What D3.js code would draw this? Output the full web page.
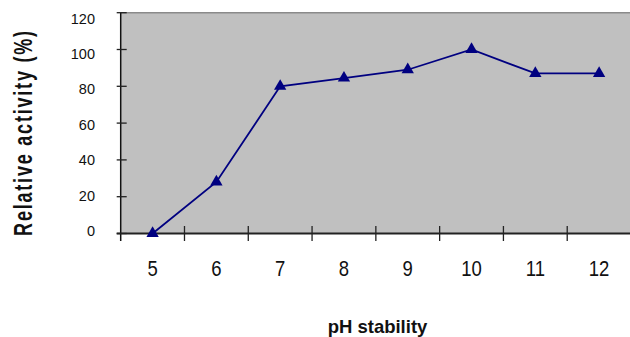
<!DOCTYPE html>
<html>
<head>
<meta charset="utf-8">
<script src="https://cdn.jsdelivr.net/npm/d3@7"></script>
<style>
  html, body { margin: 0; padding: 0; background: #fff; }
  svg { display: block; font-family: "Liberation Sans", Arial, sans-serif; }
</style>
</head>
<body>
<svg id="chart" width="630" height="337"></svg>
<script>
// pH stability profile
const categories = ["5", "6", "7", "8", "9", "10", "11", "12"];
const activity = [0, 28, 80, 84.5, 89, 100, 87, 87];
const yTicks = [0, 20, 40, 60, 80, 100, 120];
const xTitle = "pH stability";
const yTitle = "Relative activity (%)";

const svg = d3.select("#chart");
const plot = { left: 120.7, right: 631, top: 12.7, bottom: 233.5 };

const x = d3.scaleBand().domain(categories).range([plot.left, plot.right]);
const y = d3.scaleLinear().domain([0, 120]).range([plot.bottom, plot.top]);
// tick labels sit on a slightly tighter spacing than the ticks
const yLab = d3.scaleLinear().domain([0, 120]).range([231, 18.5]);

// plot area
svg.append("rect")
  .attr("x", plot.left).attr("y", plot.top)
  .attr("width", plot.right - plot.left).attr("height", plot.bottom - plot.top)
  .attr("fill", "#c0c0c0");
svg.append("line")
  .attr("x1", plot.left).attr("x2", plot.right)
  .attr("y1", plot.top).attr("y2", plot.top)
  .attr("stroke", "#8a8a8a").attr("stroke-width", 1.5);

// y axis
const gy = svg.append("g");
gy.append("line")
  .attr("x1", plot.left).attr("x2", plot.left)
  .attr("y1", plot.top).attr("y2", plot.bottom + 7.5)
  .attr("stroke", "#111").attr("stroke-width", 1.5);
gy.selectAll("line.tick").data(yTicks).join("line")
  .attr("class", "tick")
  .attr("x1", plot.left - 4).attr("x2", plot.left + 6)
  .attr("y1", d => y(d)).attr("y2", d => y(d))
  .attr("stroke", "#222").attr("stroke-width", 1.3);
gy.selectAll("text").data(yTicks).join("text")
  .attr("x", 95).attr("y", d => yLab(d))
  .attr("dy", "0.35em")
  .attr("text-anchor", "end")
  .attr("font-size", 14.5)
  .attr("fill", "#111")
  .text(d => d);

// x axis
const gx = svg.append("g");
gx.append("line")
  .attr("x1", plot.left - 4).attr("x2", plot.right)
  .attr("y1", plot.bottom).attr("y2", plot.bottom)
  .attr("stroke", "#222").attr("stroke-width", 2);
gx.selectAll("line.tick").data(categories.slice(1)).join("line")
  .attr("class", "tick")
  .attr("x1", d => x(d)).attr("x2", d => x(d))
  .attr("y1", plot.bottom - 7.5).attr("y2", plot.bottom + 7.5)
  .attr("stroke", "#222").attr("stroke-width", 1.3);
gx.selectAll("text").data(categories).join("text")
  .attr("transform", d => `translate(${x(d) + x.bandwidth() / 2},276) scale(1,1.22)`)
  .attr("text-anchor", "middle")
  .attr("font-size", 18.5)
  .attr("fill", "#111")
  .text(d => d);

// axis titles
svg.append("text")
  .attr("x", 377.5).attr("y", 332.5)
  .attr("text-anchor", "middle")
  .attr("font-size", 18.5).attr("font-weight", "bold")
  .attr("fill", "#111")
  .text(xTitle);
svg.append("text")
  .attr("transform", "translate(32,132.5) rotate(-90) scale(1,1.45)")
  .attr("text-anchor", "middle")
  .attr("font-size", 18).attr("font-weight", "bold")
  .attr("letter-spacing", 1.8)
  .attr("fill", "#111")
  .text(yTitle);

// series
const cx = d => x(d) + x.bandwidth() / 2;
const line = d3.line().x((d, i) => cx(categories[i])).y(d => y(d));
svg.append("path")
  .datum(activity)
  .attr("d", line)
  .attr("fill", "none")
  .attr("stroke", "#000080")
  .attr("stroke-width", 1.8);
svg.selectAll("path.marker").data(activity).join("path")
  .attr("class", "marker")
  .attr("transform", (d, i) => `translate(${cx(categories[i])},${y(d)})`)
  .attr("d", d3.symbol(d3.symbolTriangle, 66))
  .attr("fill", "#000080");
</script>
</body>
</html>
